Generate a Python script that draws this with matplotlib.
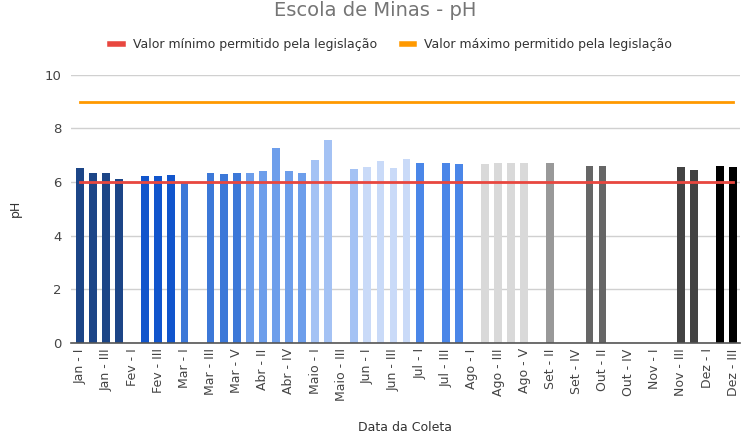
import numpy as np
import matplotlib
matplotlib.use("Agg")
import matplotlib.pyplot as plt

# DATA
months = ["Jan", "Fev", "Mar", "Abr", "Maio", "Jun", "Jul", "Ago", "Set", "Out", "Nov", "Dez"]
weeks_per_month = [4, 4, 5, 5, 4, 4, 4, 5, 4, 5, 4, 3]
romans = ["I", "II", "III", "IV", "V"]

# pH per collection (nan = no collection)
ph_values = [
    6.53, 6.35, 6.35, 6.12,            # Jan
    np.nan, 6.22, 6.22, 6.26,          # Fev
    5.98, np.nan, 6.35, 6.30, 6.35,    # Mar
    6.35, 6.39, 7.27, 6.39, 6.35,      # Abr
    6.83, 7.57, np.nan, 6.48,          # Maio
    6.56, 6.79, 6.52, 6.87,            # Jun
    6.70, np.nan, 6.70, 6.65,          # Jul
    np.nan, 6.65, 6.70, 6.70, 6.70,    # Ago
    np.nan, 6.70, np.nan, np.nan,      # Set
    6.60, 6.60, np.nan, np.nan, np.nan,  # Out
    np.nan, np.nan, 6.56, 6.44,        # Nov
    np.nan, 6.60, 6.56,                # Dez
]
ph_min = 6.0
ph_max = 9.0

month_colors = ["#1c4587", "#1155cc", "#3c78d8", "#6d9eeb", "#a4c2f4", "#c9daf8",
                "#4a86e8", "#d9d9d9", "#999999", "#666666", "#434343", "#000000"]

categories = []
bar_colors = []
for m, n, c in zip(months, weeks_per_month, month_colors):
    for k in range(n):
        categories.append(f"{m} - {romans[k]}")
        bar_colors.append(c)

x = np.arange(len(categories))

fig = plt.figure(figsize=(7.42, 4.46), dpi=100)
ax = fig.add_axes([0.0957, 0.2316, 0.9013, 0.6009])

ax.bar(x, ph_values, width=0.6, color=bar_colors, zorder=2)
l1, = ax.plot(x, [ph_min] * len(x), color="#e8473f", lw=2, zorder=3,
              label="Valor mínimo permitido pela legislação")
l2, = ax.plot(x, [ph_max] * len(x), color="#ff9900", lw=2, zorder=3,
              label="Valor máximo permitido pela legislação")

ax.set_xlim(-0.68, 50.5)
ax.set_ylim(0, 10)
ax.set_yticks([0, 2, 4, 6, 8, 10])
ax.set_xticks(x[::2])
ax.set_xticklabels(categories[::2], rotation=90, fontsize=9, color="#444444")
ax.tick_params(axis="y", labelsize=9.5, colors="#444444", length=0, pad=7)
ax.tick_params(axis="x", length=0, pad=4)
ax.grid(axis="y", color="#d0d0d0", lw=1, zorder=0)
for s in ["top", "right", "left"]:
    ax.spines[s].set_visible(False)
ax.spines["bottom"].set_color("#555555")
ax.spines["bottom"].set_linewidth(1.2)

ax.set_xlabel("Data da Coleta", fontsize=9, color="#333333", labelpad=14)
ax.set_ylabel("pH", fontsize=9, color="#333333", labelpad=16)

fig.text(0.505, 0.998, "Escola de Minas - pH", ha="center", va="top",
         fontsize=14, color="#757575")
fig.legend(handles=[l1, l2], loc="center", bbox_to_anchor=(0.527, 0.9),
           ncol=2, frameon=False, fontsize=9, handlelength=1.0,
           handleheight=0.5, columnspacing=2.0, labelcolor="#333333")
for line in fig.legends[0].get_lines():
    line.set_linewidth(4)

fig.savefig("out.png", dpi=100)
